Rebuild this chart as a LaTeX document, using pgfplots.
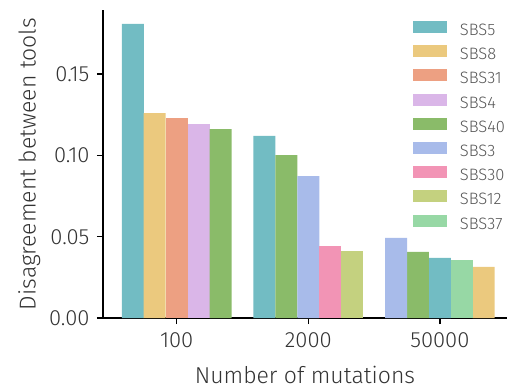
\documentclass[border=0pt]{standalone}
\usepackage{fontspec}
\setmainfont{Fira Sans}[UprightFont=* Light]
\usepackage{pgfplots}
\pgfplotsset{compat=1.18}
\definecolor{c5}{HTML}{72BCC3}
\definecolor{c8}{HTML}{EBC97E}
\definecolor{c31}{HTML}{EDA082}
\definecolor{c4}{HTML}{DAB6E8}
\definecolor{c40}{HTML}{8ABB69}
\definecolor{c3}{HTML}{A8BBEA}
\definecolor{c30}{HTML}{F294B5}
\definecolor{c12}{HTML}{C4D17F}
\definecolor{c37}{HTML}{97D8A5}
\definecolor{txt}{HTML}{333333}
\definecolor{legtxt}{HTML}{555555}
\begin{document}
\begin{tikzpicture}
\begin{axis}[
  at={(0,0)}, anchor=south west,
  scale only axis, width=404pt, height=308pt,
  xmin=-0.56, xmax=2.51, ymin=0, ymax=0.1894,
  axis x line*=bottom, axis y line*=left,
  xtick={0,1,2}, xticklabels={100,2000,50000},
  ytick={0,0.05,0.10,0.15},
  yticklabel style={/pgf/number format/.cd,fixed,fixed zerofill,precision=2,/tikz/.cd,xshift=-4pt},
  xticklabel style={yshift=-5pt},
  /pgf/number format/assume math mode=true,
  tick align=outside, major tick length=6pt,
  axis line style={line width=1.6pt, black},
  every tick/.style={line width=1.3pt, black},
  tick label style={font=\fontsize{22}{22}\selectfont, text=txt},
  label style={font=\fontsize{23}{23}\selectfont, text=txt},
  xlabel={Number of mutations},
  ylabel={Disagreement between tools},
  xlabel style={yshift=-12pt},
  ylabel style={yshift=2pt},
  ybar, bar width=0.167, bar shift=0pt,
  legend style={draw=none, fill=none, at={(0.7673,1)}, anchor=north west,
    inner sep=0pt, outer sep=0pt,
    font=\fontsize{16.5}{16.5}\selectfont, text=legtxt,
    nodes={inner sep=0pt, text height=12pt, text depth=3pt},
    row sep=6.7pt, yshift=-11pt},
  legend cell align=left,
  /tikz/every odd column/.append style={column sep=13pt},
  legend image code/.code={\fill[#1] (0pt,-2pt) rectangle (34pt,10pt);},
]
\addplot[fill=c5, draw=none] coordinates {(-0.333,0.1808) (0.667,0.1120) (2.0,0.0369)};
\addlegendentry{SBS5}
\addplot[fill=c8, draw=none] coordinates {(-0.167,0.1260) (2.333,0.0314)};
\addlegendentry{SBS8}
\addplot[fill=c31, draw=none] coordinates {(0,0.1230)};
\addlegendentry{SBS31}
\addplot[fill=c4, draw=none] coordinates {(0.167,0.1193)};
\addlegendentry{SBS4}
\addplot[fill=c40, draw=none] coordinates {(0.333,0.1162) (0.833,0.1002) (1.833,0.0406)};
\addlegendentry{SBS40}
\addplot[fill=c3, draw=none] coordinates {(1.0,0.0873) (1.667,0.0492)};
\addlegendentry{SBS3}
\addplot[fill=c30, draw=none] coordinates {(1.167,0.0443)};
\addlegendentry{SBS30}
\addplot[fill=c12, draw=none] coordinates {(1.333,0.0412)};
\addlegendentry{SBS12}
\addplot[fill=c37, draw=none] coordinates {(2.167,0.0357)};
\addlegendentry{SBS37}
\end{axis}
\pgfresetboundingbox
\path (-103pt,-71pt) rectangle (404pt,318pt);
\end{tikzpicture}
\end{document}
